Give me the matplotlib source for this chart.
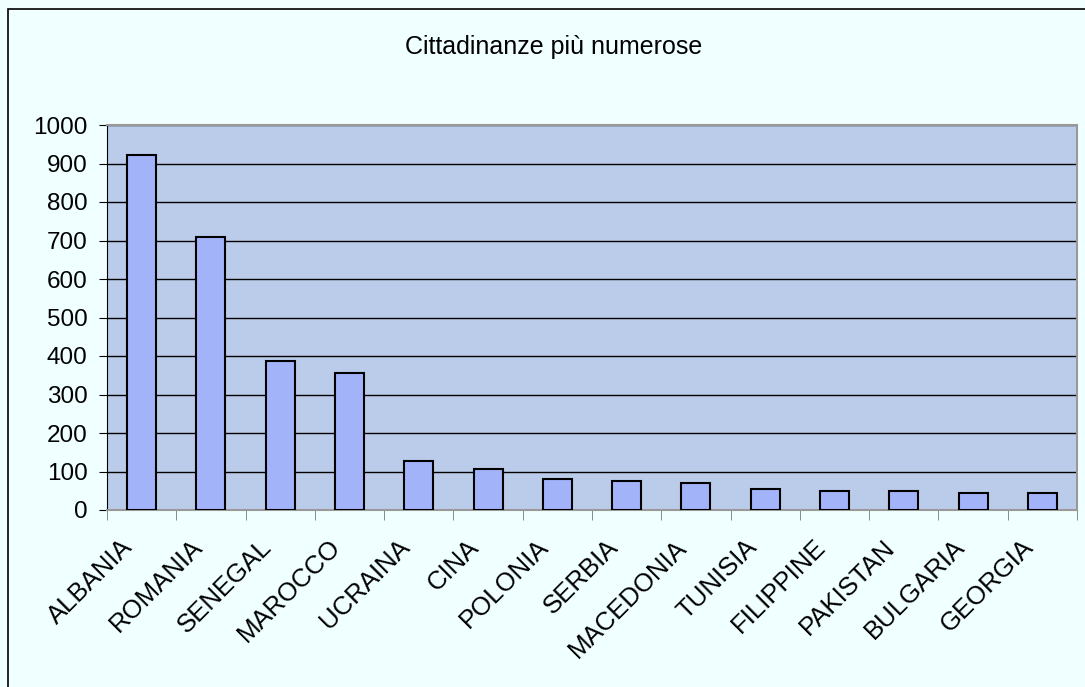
import numpy as np
import matplotlib.pyplot as plt
from matplotlib.patches import Rectangle
from matplotlib.transforms import ScaledTranslation

paesi = ["ALBANIA", "ROMANIA", "SENEGAL", "MAROCCO", "UCRAINA", "CINA", "POLONIA",
         "SERBIA", "MACEDONIA", "TUNISIA", "FILIPPINE", "PAKISTAN", "BULGARIA", "GEORGIA"]
valori = [922, 709, 387, 356, 127, 106, 80, 75, 70, 55, 49, 49, 44, 44]

plt.rcParams['font.family'] = ['Liberation Sans', 'DejaVu Sans']

fig = plt.figure(figsize=(10.85, 6.87), dpi=100, facecolor='#F0FFFF')
ax = fig.add_axes([107/1085, 1 - 510/687, (1077 - 107)/1085, (510 - 125)/687])
ax.set_facecolor('#BBCCEB')

x = np.arange(len(paesi))
ax.bar(x, valori, width=0.42, color='#A3B3FA', edgecolor='black', linewidth=1.5, zorder=3)

ax.set_xlim(-0.5, len(paesi) - 0.5)
ax.set_ylim(0, 1000)
ax.set_yticks(np.arange(0, 1001, 100))
ax.yaxis.grid(True, color='black', linewidth=1, zorder=1)
ax.set_axisbelow(True)

ax.set_xticks(x)
ax.set_xticklabels(paesi, rotation=45, ha='right', rotation_mode='anchor', fontsize=18.5)
ax.tick_params(axis='x', length=0, pad=18)
# sposto le etichette un po' a sinistra
spost = ScaledTranslation(-21/100, 0, fig.dpi_scale_trans)
for lab in ax.get_xticklabels():
    lab.set_transform(lab.get_transform() + spost)
ax.set_xticks(np.arange(-0.5, len(paesi)), minor=True)
ax.tick_params(axis='x', which='minor', length=7, color='#777777', direction='out')
ax.tick_params(axis='y', labelsize=17.5, length=6, direction='out', pad=8)

ax.spines['left'].set_color('black')
for s in ['top', 'right', 'bottom']:
    ax.spines[s].set_color('#999999')
    ax.spines[s].set_linewidth(1.5)

fig.text(554/1085, 1 - 47/687, "Cittadinanze più numerose", ha='center', va='center', fontsize=18)

fig.patches.append(Rectangle((8/1085, -0.05), 1.1, (687 + 34 - 9)/687,
                             transform=fig.transFigure, fill=False, edgecolor='black',
                             linewidth=1.2))

fig.savefig('out.png', dpi=100, facecolor=fig.get_facecolor())
